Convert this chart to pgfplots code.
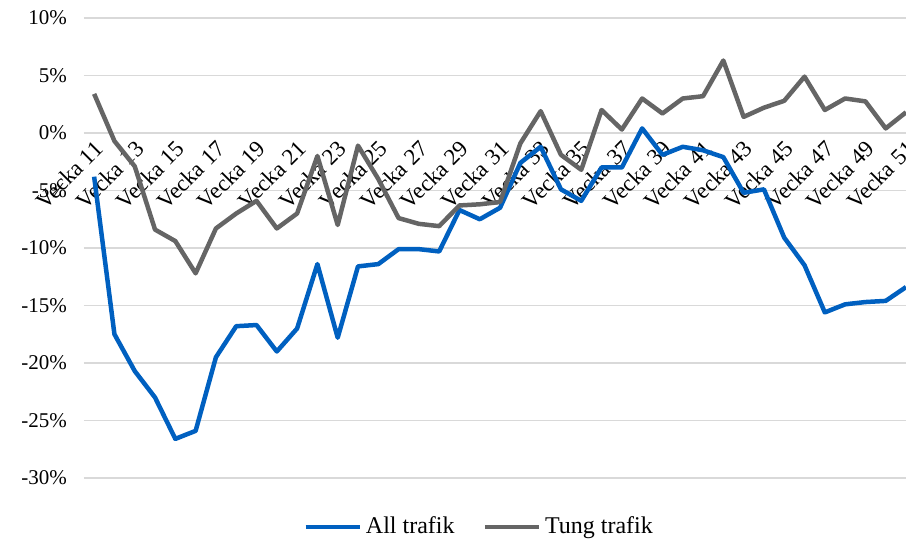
\documentclass[border=0pt]{standalone}
\usepackage{pgfplots}
\pgfplotsset{compat=1.18}
\usepackage{fontspec}
\setmainfont{Liberation Serif}
\definecolor{allblue}{HTML}{0060C0}
\definecolor{tunggray}{HTML}{656565}
\definecolor{gridgray}{HTML}{D9D9D9}
\begin{document}
\begin{tikzpicture}
\useasboundingbox (0,0) rectangle (453pt,270pt);
\begin{axis}[
  at={(42pt,31pt)}, anchor=south west,
  scale only axis, width=411pt, height=230pt,
  xmin=10.5, xmax=51, ymin=-30, ymax=10,
  axis x line=middle, axis y line=left,
  x axis line style={draw=none}, y axis line style={draw=none},
  major tick length=0pt,
  ytick={-30,-25,...,10},
  yticklabels={-30\%,-25\%,-20\%,-15\%,-10\%,-5\%,0\%,5\%,10\%},
  ymajorgrids, grid style={gridgray, line width=0.75pt},
  yticklabel style={font=\fontsize{10.5}{12}\selectfont, anchor=east, xshift=-5pt},
  xtick={11,13,...,51},
  xticklabels={Vecka 11,Vecka 13,Vecka 15,Vecka 17,Vecka 19,Vecka 21,Vecka 23,Vecka 25,Vecka 27,Vecka 29,Vecka 31,Vecka 33,Vecka 35,Vecka 37,Vecka 39,Vecka 41,Vecka 43,Vecka 45,Vecka 47,Vecka 49,Vecka 51},
  xticklabel style={font=\fontsize{11.5}{13}\selectfont, rotate=45, anchor=east, xshift=1pt, yshift=-6pt},
  clip=true,
  legend style={at={(0.482,-0.1065)}, anchor=center, draw=none, fill=none, legend columns=2,
    font=\fontsize{12}{14}\selectfont,
    /tikz/every even column/.append style={column sep=12pt}},
  legend cell align=left,
  legend image code/.code={\draw[#1] (0pt,0pt) -- (27pt,0pt);},
]
\addplot[allblue, line width=2.25pt, line join=round] coordinates {
(11,-3.8) (12,-17.5) (13,-20.7) (14,-23.0) (15,-26.6) (16,-25.9) (17,-19.5) (18,-16.8) (19,-16.7) (20,-19.0)
(21,-17.0) (22,-11.4) (23,-17.8) (24,-11.6) (25,-11.4) (26,-10.1) (27,-10.1) (28,-10.3) (29,-6.7) (30,-7.5)
(31,-6.5) (32,-2.6) (33,-1.2) (34,-4.9) (35,-5.9) (36,-3.0) (37,-3.0) (38,0.4) (39,-1.9) (40,-1.2)
(41,-1.5) (42,-2.1) (43,-5.2) (44,-4.9) (45,-9.1) (46,-11.5) (47,-15.6) (48,-14.9) (49,-14.7) (50,-14.6)
(51,-13.4)};
\addlegendentry{All trafik}
\addplot[tunggray, line width=2.25pt, line join=round] coordinates {
(11,3.4) (12,-0.7) (13,-2.9) (14,-8.4) (15,-9.4) (16,-12.2) (17,-8.3) (18,-7.0) (19,-5.9) (20,-8.3)
(21,-7.0) (22,-2.0) (23,-8.0) (24,-1.1) (25,-4.0) (26,-7.4) (27,-7.9) (28,-8.1) (29,-6.3) (30,-6.2)
(31,-6.0) (32,-0.9) (33,1.9) (34,-1.9) (35,-3.2) (36,2.0) (37,0.3) (38,3.0) (39,1.7) (40,3.0)
(41,3.2) (42,6.3) (43,1.4) (44,2.2) (45,2.8) (46,4.9) (47,2.0) (48,3.0) (49,2.75) (50,0.4)
(51,1.8)};
\addlegendentry{Tung trafik}
\end{axis}
\end{tikzpicture}
\end{document}
